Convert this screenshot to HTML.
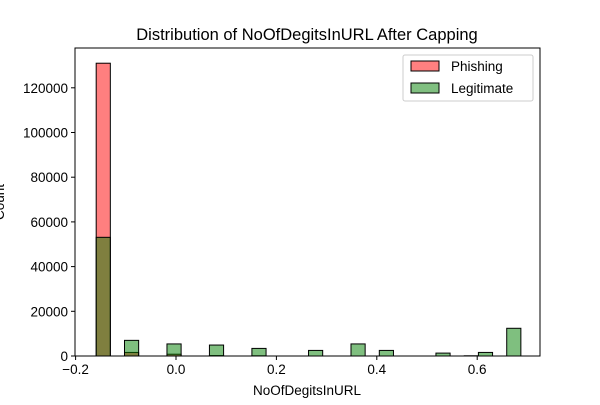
<!DOCTYPE html>
<html><head><meta charset="utf-8"><style>
body{margin:0;background:#fff;}
svg{font-family:"Liberation Sans","DejaVu Sans",sans-serif;}
</style></head><body>
<svg id="chart" width="600" height="400" viewBox="0 0 600 400">
<rect width="600" height="400" fill="#fff"/>
<text x="307" y="40" font-size="16.5" text-anchor="middle">Distribution of NoOfDegitsInURL After Capping</text>
<g id="bars"></g>
<rect x="75" y="48" width="465" height="308" fill="none" stroke="#000" stroke-width="1"/>
<g id="axes"></g>
<text x="307" y="395" font-size="13.5" text-anchor="middle">NoOfDegitsInURL</text>
<text transform="translate(4,202) rotate(-90)" font-size="13.5" text-anchor="middle">Count</text>
<g>
<rect x="403" y="55" width="130" height="46" fill="#fff" stroke="#ccc" rx="2"/>
<rect x="411" y="61" width="28" height="10" fill="#ff8080" stroke="#000"/>
<text x="451" y="71" font-size="13.5">Phishing</text>
<rect x="411" y="83" width="28" height="10" fill="#80bf80" stroke="#000"/>
<text x="451" y="93" font-size="13.5">Legitimate</text>
</g>
</svg>
<script>
const binStart = -0.159;
const binWidth = 0.0282;
const phishingCounts = [131000,0,1600,0,0,800,0,0,200,0,0,100,0,0,0,0,0,0,0,0,0,0,0,0,0,0,0,0,0,0];
const legitCounts = [53100,0,7000,0,0,5400,0,0,4900,0,0,3400,0,0,0,2500,0,0,5400,0,2500,0,0,0,1300,0,100,1600,0,12400];
const xTicks = [-0.2,0.0,0.2,0.4,0.6];
const xTickLabels = ["−0.2","0.0","0.2","0.4","0.6"];
const yTicks = [0,20000,40000,60000,80000,100000,120000];
const yTickLabels = ["0","20000","40000","60000","80000","100000","120000"];
const NS="http://www.w3.org/2000/svg";
const xs = v => 75.6 + (v + 0.2) * 502;
const ys = v => 356 - v * 44.7 / 20000;
const bars = document.getElementById('bars');
function drawSeries(counts, fill, nm){
  counts.forEach((c,i)=>{
    if(c<=0) return;
    const x0 = xs(binStart + i*binWidth), x1 = xs(binStart + (i+1)*binWidth);
    const r = document.createElementNS(NS,'rect');
    r.setAttribute('x',x0); r.setAttribute('width',x1-x0);
    r.setAttribute('y',ys(c)); r.setAttribute('height',356-ys(c));
    r.setAttribute('fill',fill); r.setAttribute('fill-opacity','0.5');
    r.setAttribute('stroke','#000'); r.setAttribute('stroke-width','1');
    
    
    bars.appendChild(r);
  });
}
drawSeries(phishingCounts,'#ff0000','phishing');
drawSeries(legitCounts,'#008000','legitimate');
const axes = document.getElementById('axes');
xTicks.forEach((t,i)=>{
  const x = xs(t);
  const l = document.createElementNS(NS,'line');
  l.setAttribute('x1',x);l.setAttribute('x2',x);l.setAttribute('y1',356);l.setAttribute('y2',360);l.setAttribute('stroke','#000');
  
  
  axes.appendChild(l);
  const tx = document.createElementNS(NS,'text');
  tx.setAttribute('x',x);tx.setAttribute('y',374);tx.setAttribute('font-size','13.5');tx.setAttribute('text-anchor','middle');
  tx.textContent = xTickLabels[i];
  
  
  axes.appendChild(tx);
});
yTicks.forEach((t,i)=>{
  const y = ys(t);
  const l = document.createElementNS(NS,'line');
  l.setAttribute('x1',71);l.setAttribute('x2',75);l.setAttribute('y1',y);l.setAttribute('y2',y);l.setAttribute('stroke','#000');
  
  
  axes.appendChild(l);
  const tx = document.createElementNS(NS,'text');
  tx.setAttribute('x',68);tx.setAttribute('y',y+5);tx.setAttribute('font-size','13.5');tx.setAttribute('text-anchor','end');
  tx.textContent = yTickLabels[i];
  
  
  axes.appendChild(tx);
});
</script>
</body></html>
